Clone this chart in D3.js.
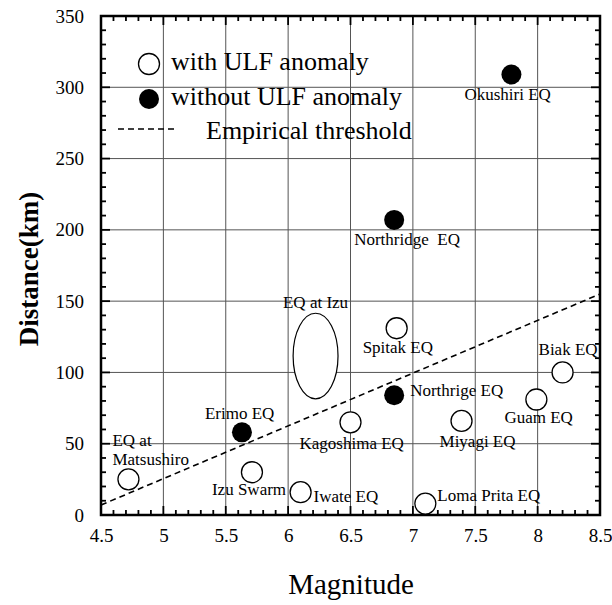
<!DOCTYPE html>
<html>
<head>
<meta charset="utf-8">
<script src="https://cdn.jsdelivr.net/npm/d3@7"></script>
<style>
  html, body { margin: 0; padding: 0; background: #fff; }
  svg { display: block; }
  text { font-family: "Liberation Serif", "Times New Roman", serif; fill: #000; }
</style>
</head>
<body>
<svg id="chart" width="612" height="605"></svg>
<script>
// Earthquakes with an observed ULF anomaly (open circles): [magnitude, distance km]
const withULF = [
  { name: "EQ at Matsushiro", mag: 4.72, dist: 25 },
  { name: "Izu Swarm",        mag: 5.71, dist: 30 },
  { name: "Iwate EQ",         mag: 6.10, dist: 16 },
  { name: "Kagoshima EQ",     mag: 6.50, dist: 65 },
  { name: "Spitak EQ",        mag: 6.87, dist: 131 },
  { name: "Loma Prita EQ",    mag: 7.10, dist: 8 },
  { name: "Miyagi EQ",        mag: 7.39, dist: 66 },
  { name: "Guam EQ",          mag: 7.99, dist: 81 },
  { name: "Biak EQ",          mag: 8.20, dist: 100 }
];
// Earthquakes without a ULF anomaly (filled circles)
const withoutULF = [
  { name: "Erimo EQ",        mag: 5.63, dist: 58 },
  { name: "Northrige EQ",    mag: 6.85, dist: 84 },
  { name: "Northridge  EQ",  mag: 6.85, dist: 207 },
  { name: "Okushiri EQ",     mag: 7.79, dist: 309 }
];
// Swarm near Izu drawn as an ellipse: centre and half-extents
const izuRange = { name: "EQ at Izu", mag: 6.22, dist: 111.5, magHalf: 0.18, distHalf: 30 };
// Empirical threshold line endpoints [magnitude, distance]
const thresholdLine = [[4.5, 7], [8.5, 155]];

const xTicks = [4.5, 5, 5.5, 6, 6.5, 7, 7.5, 8, 8.5];
const yTicks = [0, 50, 100, 150, 200, 250, 300, 350];

// Label placement (offsets from each mark, in px)
const labelPos = {
  "EQ at Matsushiro": null,
  "Izu Swarm":      { dx: -40, dy: 23 },
  "Iwate EQ":       { dx: 13, dy: 10 },
  "Kagoshima EQ":   { dx: -51, dy: 27 },
  "Spitak EQ":      { dx: -34, dy: 25 },
  "Loma Prita EQ":  { dx: 12, dy: -3 },
  "Miyagi EQ":      { dx: -22, dy: 26 },
  "Guam EQ":        { dx: -32, dy: 23 },
  "Biak EQ":        { dx: -24, dy: -17 },
  "Erimo EQ":       { dx: -37, dy: -13 },
  "Northrige EQ":   { dx: 16, dy: 1 },
  "Northridge  EQ": { dx: -40, dy: 25 },
  "Okushiri EQ":    { dx: -47, dy: 26 }
};

const svg = d3.select("#chart");
const L = 101, R = 600, T = 16, B = 515;

const x = d3.scaleLinear().domain([4.5, 8.5]).range([L, R]);
const y = d3.scaleLinear().domain([0, 350]).range([B, T]);

// Grid lines at major ticks
const grid = svg.append("g").attr("stroke", "#555").attr("stroke-width", 1);
xTicks.slice(1, -1).forEach(v => {
  grid.append("line").attr("x1", x(v)).attr("x2", x(v)).attr("y1", T).attr("y2", B);
});
yTicks.slice(1, -1).forEach(v => {
  grid.append("line").attr("y1", y(v)).attr("y2", y(v)).attr("x1", L).attr("x2", R);
});

// Inward ticks on all four sides: majors and minors
const minorX = d3.range(45, 86).map(v => v / 10);
const minorY = d3.range(0, 351, 10);
const tickG = svg.append("g").attr("stroke", "#000").attr("stroke-width", 1.8);
minorX.forEach(v => {
  const major = xTicks.some(t => Math.abs(t - v) < 1e-6);
  const len = major ? 9 : 5;
  tickG.append("line").attr("x1", x(v)).attr("x2", x(v)).attr("y1", B).attr("y2", B - len);
  tickG.append("line").attr("x1", x(v)).attr("x2", x(v)).attr("y1", T).attr("y2", T + len);
});
minorY.forEach(v => {
  const major = yTicks.includes(v);
  const len = major ? 9 : 5;
  tickG.append("line").attr("y1", y(v)).attr("y2", y(v)).attr("x1", L).attr("x2", L + len);
  tickG.append("line").attr("y1", y(v)).attr("y2", y(v)).attr("x1", R).attr("x2", R - len);
});

// Axis tick labels via d3 axes (tick lines hidden)
const xAxis = svg.append("g").attr("transform", `translate(0,${B})`)
  .call(d3.axisBottom(x).tickValues(xTicks).tickSize(0).tickPadding(14).tickFormat(d3.format("")));
const yAxis = svg.append("g").attr("transform", `translate(${L},0)`)
  .call(d3.axisLeft(y).tickValues(yTicks).tickSize(0).tickPadding(17).tickFormat(d3.format("")));
[xAxis, yAxis].forEach(a => {
  a.select(".domain").remove();
  a.selectAll("text").attr("font-size", 19).attr("font-family", "Liberation Serif").attr("fill", "#000");
});

// Plot frame
svg.append("rect").attr("x", L).attr("y", T).attr("width", R - L).attr("height", B - T)
  .attr("fill", "none").attr("stroke", "#000").attr("stroke-width", 2.5);

// Empirical threshold
svg.append("line")
  .attr("x1", x(thresholdLine[0][0])).attr("y1", y(thresholdLine[0][1]))
  .attr("x2", x(thresholdLine[1][0])).attr("y2", y(thresholdLine[1][1]))
  .attr("stroke", "#000").attr("stroke-width", 1.6).attr("stroke-dasharray", "6,4");

// Izu ellipse
svg.append("ellipse")
  .attr("cx", x(izuRange.mag)).attr("cy", y(izuRange.dist))
  .attr("rx", x(izuRange.mag + izuRange.magHalf) - x(izuRange.mag))
  .attr("ry", y(izuRange.dist - izuRange.distHalf) - y(izuRange.dist))
  .attr("fill", "#fff").attr("stroke", "#000").attr("stroke-width", 1.2);
svg.append("text").attr("x", x(izuRange.mag)).attr("y", y(izuRange.dist + izuRange.distHalf) - 5)
  .attr("text-anchor", "middle").attr("font-size", 17).text(izuRange.name);

// Points
svg.append("g").selectAll("circle").data(withULF).join("circle")
  .attr("cx", d => x(d.mag)).attr("cy", d => y(d.dist)).attr("r", 10.5)
  .attr("fill", "#fff").attr("stroke", "#000").attr("stroke-width", 1.3);
svg.append("g").selectAll("circle").data(withoutULF).join("circle")
  .attr("cx", d => x(d.mag)).attr("cy", d => y(d.dist)).attr("r", 10)
  .attr("fill", "#000");

// Point labels
const labels = svg.append("g").attr("font-size", 17);
withULF.concat(withoutULF).forEach(d => {
  const p = labelPos[d.name];
  if (!p) return;
  labels.append("text").attr("x", x(d.mag) + p.dx).attr("y", y(d.dist) + p.dy)
    .style("white-space", "pre").text(d.name);
});
// Two-line label for Matsushiro
const mats = withULF[0];
labels.append("text").attr("x", x(mats.mag) - 16).attr("y", y(mats.dist) - 33).text("EQ at");
labels.append("text").attr("x", x(mats.mag) - 16).attr("y", y(mats.dist) - 14).text("Matsushiro");

// Legend
const lg = svg.append("g");
lg.append("circle").attr("cx", 149).attr("cy", 64).attr("r", 10.5)
  .attr("fill", "#fff").attr("stroke", "#000").attr("stroke-width", 1.3);
lg.append("text").attr("x", 171).attr("y", 70).attr("font-size", 26).text("with ULF anomaly");
lg.append("circle").attr("cx", 149).attr("cy", 99).attr("r", 10).attr("fill", "#000");
lg.append("text").attr("x", 171).attr("y", 105).attr("font-size", 26).text("without ULF anomaly");
lg.append("line").attr("x1", 118).attr("x2", 177).attr("y1", 129).attr("y2", 129)
  .attr("stroke", "#000").attr("stroke-width", 1.6).attr("stroke-dasharray", "6,4");
lg.append("text").attr("x", 206).attr("y", 139).attr("font-size", 26).text("Empirical threshold");

// Axis titles
svg.append("text").attr("x", 351).attr("y", 594).attr("text-anchor", "middle")
  .attr("font-size", 29).text("Magnitude");
svg.append("text").attr("transform", "translate(38,269) rotate(-90)").attr("text-anchor", "middle")
  .attr("font-size", 27).attr("font-weight", "bold").text("Distance(km)");
</script>
</body>
</html>
